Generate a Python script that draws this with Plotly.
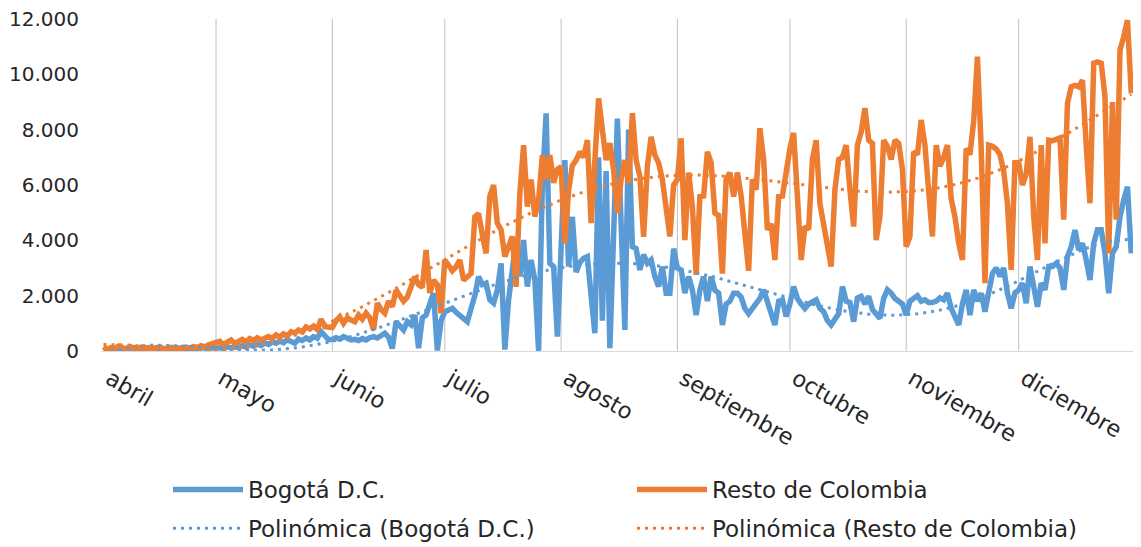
import numpy as np
import pandas as pd
import plotly.graph_objects as go

# ---------------- data (daily new cases) ----------------
bog_apr = [40, 70, 30, 90, 60, 40, 80, 50, 100, 70, 60, 90, 40, 80, 110, 70, 60, 100, 80, 50,
           90, 120, 80, 60, 110, 90, 130, 100, 80, 120]
bog_may = [90, 130, 70, 160, 110, 150, 120, 190, 140, 220, 170, 250, 200, 290, 240, 330, 280, 360, 300, 410,
           330, 280, 430, 380, 470, 400, 520, 460, 700, 560, 410]
bog_jun = [420, 480, 430, 520, 460, 400, 420, 380, 450, 400, 480, 520, 470, 560, 640, 500, 90, 1060, 880, 760,
           1060, 950, 1300, 100, 1200, 1300, 1700, 2090, 20, 1100]
bog_jul = [1420, 1480, 1540, 1400, 1300, 1200, 1060, 1540, 2000, 2690, 2400, 2450, 1850, 1730, 2210, 3170, 50,
           1850, 2900, 4010, 2690, 4010, 2330, 3290, 2570, 0, 6000, 8590, 3170, 3050, 520]
bog_aug = [3700, 6900, 3050, 4850, 2850, 3200, 3350, 3410, 2000, 640, 7000, 1100, 6500, 100, 4200, 8400, 4600,
           760, 8000, 3770, 3700, 2930, 3480, 3170, 3290, 2690, 2330, 3050, 2090, 2090, 3700]
bog_sep = [3000, 2930, 2090, 2690, 2210, 1300, 2200, 2690, 1800, 2690, 2200, 2090, 940, 1700, 1800, 2090, 2090,
           1950, 1540, 1350, 1540, 1650, 1900, 2210, 1800, 1420, 940, 1800, 1850, 1250]
bog_oct = [1700, 2330, 1900, 1700, 1540, 1700, 1800, 1850, 1540, 1420, 1100, 940, 1150, 1350, 2330, 1800, 1750,
           1060, 1920, 1980, 1700, 1980, 1500, 1300, 1180, 1900, 2210, 2090, 1900, 1800, 1700]
bog_nov = [1300, 1800, 1900, 2000, 1800, 1850, 1750, 1750, 1800, 1920, 1850, 2090, 1540, 1200, 940, 1700, 2210,
           1300, 2210, 1800, 2090, 1420, 2090, 2810, 3000, 2700, 3000, 2090, 1540, 2100]
bog_dec = [2210, 2450, 1730, 3050, 2330, 1600, 2450, 2210, 3050, 3050, 3170, 3000, 2210, 3410, 3770, 4370, 3650,
           3890, 3290, 2570, 3890, 4380, 4380, 3530, 2090, 3530, 3770, 4850, 5460, 5940, 3530]

rest_apr = [150, 60, 120, 90, 180, 110, 70, 160, 100, 80, 140, 90, 120, 60, 110, 150, 90, 70, 130, 100,
            120, 90, 140, 110, 160, 130, 190, 150, 220, 260]
rest_may = [280, 350, 230, 310, 400, 270, 360, 420, 330, 450, 380, 480, 400, 440, 520, 460, 580, 500, 620, 540,
            700, 650, 760, 690, 870, 800, 900, 780, 1150, 880, 860]
rest_jun = [850, 1100, 1240, 1000, 1200, 1120, 1060, 1300, 1150, 1370, 1200, 760, 1730, 1500, 1370, 1800, 1600,
            2200, 2000, 1800, 1950, 2300, 2690, 2400, 2300, 3650, 2100, 2560, 2400, 1370]
rest_jul = [3290, 3100, 2900, 3050, 3290, 2560, 2700, 2800, 4850, 4970, 4200, 3530, 5580, 6000, 4620, 4380, 3410,
            3800, 4140, 2320, 5700, 7440, 5220, 6200, 4860, 5460, 7080, 6200, 7080, 6080, 6560]
rest_aug = [6660, 3890, 5800, 6700, 6900, 7200, 7000, 7620, 4620, 6800, 9130, 8000, 6900, 7510, 6540, 4990, 6200,
            6900, 6060, 8600, 6900, 6300, 4130, 6680, 7740, 7080, 6800, 6200, 4980, 4140, 6000]
rest_sep = [6200, 7690, 4010, 6450, 5220, 2750, 5580, 5600, 7200, 6800, 4980, 4900, 2800, 6200, 6450, 5580, 6450,
            5600, 4140, 2900, 6200, 5830, 8050, 6920, 4380, 4600, 3290, 5580, 5600, 6560]
rest_oct = [7320, 7880, 5330, 3290, 4500, 4400, 6920, 7620, 5330, 4600, 3900, 3050, 5830, 6920, 7000, 7440, 5830,
            4500, 7440, 7920, 8780, 7620, 7500, 4010, 4860, 7620, 7400, 6920, 7620, 7500, 6560]
rest_nov = [3770, 4140, 7200, 7100, 8350, 7440, 6000, 4140, 7440, 6680, 7000, 7440, 5500, 4850, 3900, 3290, 7320,
            7100, 8300, 10640, 7320, 2450, 7440, 7400, 7300, 7100, 6500, 5330, 2930, 6800]
rest_dec = [6800, 6000, 6400, 7740, 4860, 3290, 7440, 3890, 7620, 7600, 7650, 7700, 4750, 8950, 9550, 9600, 9550,
            9790, 7440, 5340, 10400, 10450, 10400, 9200, 3530, 9000, 4750, 10880, 11360, 11960, 9310]

start_date = "2020-04-01"
month_starts = ["2020-04-01", "2020-05-01", "2020-06-01", "2020-07-01", "2020-08-01",
                "2020-09-01", "2020-10-01", "2020-11-01", "2020-12-01"]
month_names = ["abril", "mayo", "junio", "julio", "agosto", "septiembre", "octubre", "noviembre", "diciembre"]
y_ticks = [0, 2000, 4000, 6000, 8000, 10000, 12000]

series_names = ["Bogotá D.C.", "Resto de Colombia"]
trend_names = ["Polinómica (Bogotá D.C.)", "Polinómica (Resto de Colombia)"]
trend_degree = 6

# ---------------- assemble ----------------
bogota = bog_apr + bog_may + bog_jun + bog_jul + bog_aug + bog_sep + bog_oct + bog_nov + bog_dec
resto = rest_apr + rest_may + rest_jun + rest_jul + rest_aug + rest_sep + rest_oct + rest_nov + rest_dec
dates = pd.date_range(start_date, periods=len(bogota), freq="D")

t = np.arange(len(dates), dtype=float)
ts = t / t.max()


def poly_trend(vals, deg):
    coef = np.polyfit(ts, np.asarray(vals, dtype=float), deg)
    return np.polyval(coef, ts)


BLUE = "#5B9BD5"
ORANGE = "#ED7D31"
TXT = "#262626"
FONT = "DejaVu Sans"

fig = go.Figure()
fig.add_trace(go.Scatter(x=dates, y=bogota, mode="lines", name=series_names[0],
                         line=dict(color=BLUE, width=5.5),
                         legend="legend", legendgroup="g1"))
fig.add_trace(go.Scatter(x=dates, y=resto, mode="lines", name=series_names[1],
                         line=dict(color=ORANGE, width=5.5),
                         legend="legend2", legendgroup="g2"))
fig.add_trace(go.Scatter(x=dates, y=poly_trend(bogota, trend_degree), mode="lines", name=trend_names[0],
                         line=dict(color=BLUE, width=3, dash="3px,5px"),
                         legend="legend", legendgroup="g3"))
fig.add_trace(go.Scatter(x=dates, y=poly_trend(resto, trend_degree), mode="lines", name=trend_names[1],
                         line=dict(color=ORANGE, width=3, dash="3px,5px"),
                         legend="legend2", legendgroup="g4"))

# month gridlines (no line at the left edge)
for m in month_starts[1:]:
    fig.add_shape(type="line", xref="x", yref="paper", x0=m, x1=m, y0=0, y1=1,
                  line=dict(color="#BFBFBF", width=1), layer="below")

legend_common = dict(xref="container", yref="container", xanchor="left", yanchor="top",
                     orientation="v", font=dict(family=FONT, size=23, color=TXT),
                     bgcolor="rgba(0,0,0,0)", tracegroupgap=6, itemwidth=70)

fig.update_layout(
    width=1141, height=547, autosize=False,
    margin=dict(l=101, r=8, t=19, b=196, autoexpand=False),
    paper_bgcolor="white", plot_bgcolor="white",
    separators=",.",
    font=dict(family=FONT, size=20, color=TXT),
    showlegend=True,
    legend=dict(x=168 / 1141, y=1 - 468 / 547, **legend_common),
    legend2=dict(x=632 / 1141, y=1 - 468 / 547, **legend_common),
    xaxis=dict(
        type="date",
        range=["2020-03-31 08:00", "2020-12-31 11:20"],
        tickmode="array", tickvals=month_starts, ticktext=month_names,
        tickangle=30, showgrid=False, zeroline=False,
        showline=True, linecolor="#D9D9D9", linewidth=1,
        ticks="", ticklabelstandoff=5, ticklabelshift=6,
        tickfont=dict(family=FONT, size=22.5, color=TXT),
    ),
    yaxis=dict(
        range=[0, 12000], tickmode="array", tickvals=y_ticks, tickformat=",d",
        showgrid=False, zeroline=False, showline=False, ticks="",
        ticklabelstandoff=21, tickfont=dict(family=FONT, size=20, color=TXT),
    ),
)

# remove the browser's default 8px page margin so the figure sits at the window origin
fig.write_html("out.html", config={"displayModeBar": False},
               post_script="document.body.style.margin='0';")
